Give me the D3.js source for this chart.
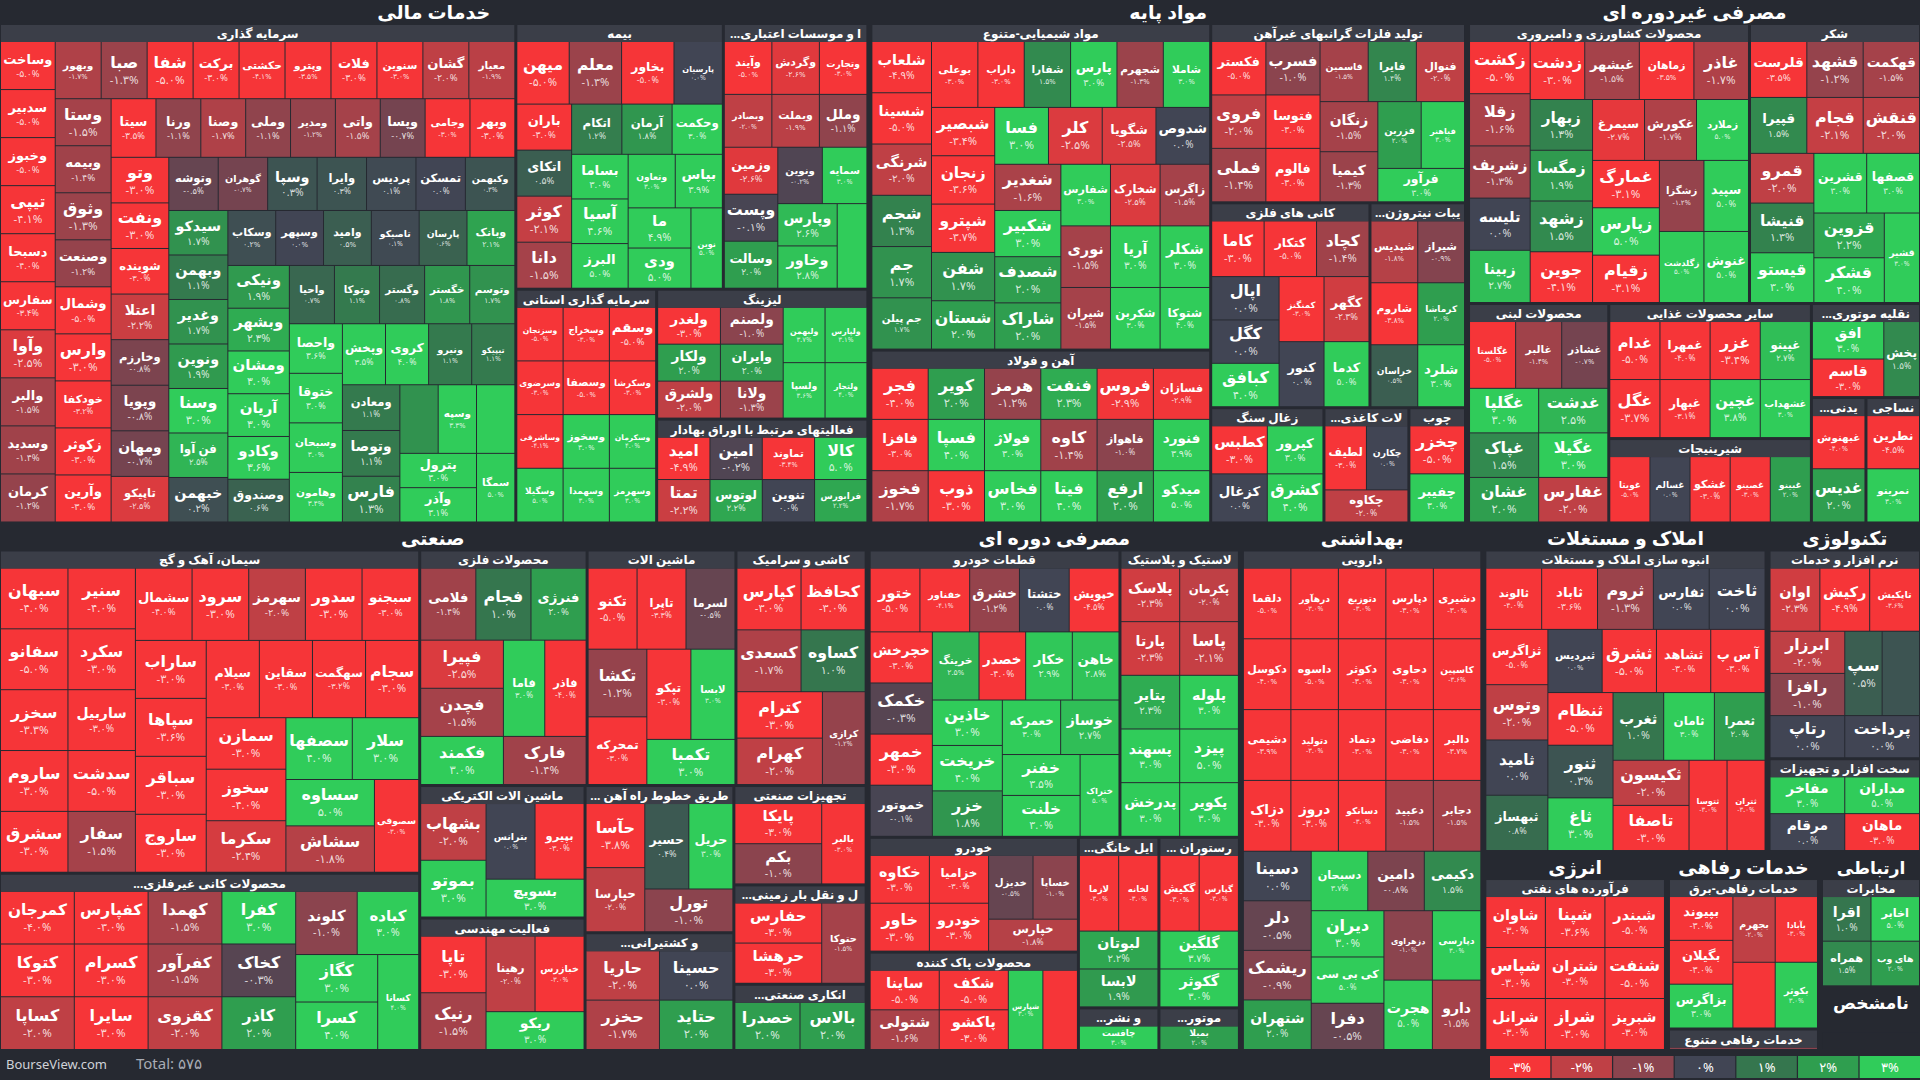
<!DOCTYPE html>
<html><head><meta charset="utf-8">
<script src="https://cdn.jsdelivr.net/npm/d3@7"></script>
<style>body{margin:0;background:#262931;overflow:hidden}svg{display:block}text{font-family:"Noto Sans","DejaVu Sans",sans-serif}</style>
</head><body><svg id="c" width="1920" height="1080"></svg>
<script>
// ---------- DATA ----------
// each sector: [subsector, [[ticker, pctChange, weight?], ...]]
const finance = [
 ["سرمایه گذاری", [["وساخت",-5],["سدبیر",-5],["وخبوز",-5],["تیپی",-4.1],["دسبحا",-4],["سفارس",-3.4],["وآوا",-2.5],["والبر",-1.5],["وسدید",-1.4],["کرمان",-1.2],["وبهور",-1.7],["صبا",-1.3],
  ["شفا",-5],["برکت",-3],["حکشتی",-4.1],["وپترو",-3.5],["فلات",-3],["سنوین",-3],["گشان",-2],["معیار",-1.9],["وستا",-1.5],["وبیمه",-1.4],["وثوق",-1.3],["وصنعت",-1.2],
  ["وشمال",-5],["وارس",-3],["خودکفا",-3.2],["زکوثر",-3],["وآرین",-3],["سیتا",-3.5],["ورنا",-1.1],["وصنا",-1.7],["وملی",-1.1],["ومدیر",-1.2],["واتی",-1.5],["وپسا",-0.7],
  ["وجامی",-3],["وبهر",-3],["وتو",-3],["ونفت",-3],["شوینده",-3],["اعتلا",-2.2],["وخارزم",-0.8],["وپویا",-0.8],["ومهان",-0.7],["تاپیکو",-2.5],["وتوشه",-0.5],
  ["گوهران",-0.7],["وسپا",0.3],["وایرا",0.3],["پردیس",0.1],["تمسکن",0],["وکبهمن",0.3],["سیدکو",1.7],["وبهمن",1.1],["وغدیر",1.7],["ونوین",1.9],["وسنا",3],["فن آوا",2.5],
  ["خبهمن",0.2],["وسکاب",0.2],["وسپهر",0],["وامید",0.5],["تاصیکو",0.1],["پارسان",0.6],["وبانک",2.1],["ونیکی",1.9],["وبشهر",2.3],["ومشان",3],["آریان",3],["وکادو",3.6],
  ["وصندوق",0.6],["واحیا",0.7],["وتوکا",1.1],["وگستر",0.8],["خگستر",1.8],["وتوسم",1.7],["واحصا",3.6],["ختوقا",3],["وسبحان",3],["وهامون",3.4],["وپخش",3.5],["کروی",4],
  ["ونیرو",1.1],["تیپیکو",1.1],["ومعادن",1.1],["وتوصا",1.1],["فارس",1.3],["سرچشمه",1.7],["وسپه",3.3],["واعتبار",3],["پترول",3],["وآذر",3.1],["سمگا",5]]],
 ["بیمه", [["میهن",-5,1.3],["معلم",-1.3,1.3],["بخاور",-5,1.3],["پارسیان",0,1.2],["باران",-3],["اتکای",0.5],["کوثر",-2.1],["دانا",-1.5],["اتکام",1.2],["آرمان",1.8],
  ["وحکمت",3],["بساما",3],["آسیا",4.6],["البرز",5],["وتعاون",3],["بپاس",3.9],["ما",4.9],["ودی",5],["نوین",5]]],
 ["بانکها و موسسات اعتباری", [["وآیند",-5],["وگردش",-2.6],["وتجارت",-3],["وبصادر",-2],["وبملت",-1.9],["وملل",-1.1],["وزمین",-2.6],["وپست",-0.1],["وسالت",2],["ونوین",-0.2],["سمایه",3],["وپارس",2.6],["وخاور",2.8],["وسینا",5]]],
 ["سرمایه گذاری استانی", [["وسزنجان",-5],["وسخراج",-3],["وسقم",-5],["وسرضوی",-3],["وسصفا",-5],["وسکرشا",-3],["وساشرقی",-4.1],["وسگیلا",5],["وسخوز",3],["وسکرمان",4],["وسهمدا",3],["وسهرمز",3]]],
 ["لیزینگ", [["ولغدر",-3],["ولکار",2],["ولشرق",-2],["ولصنم",-1],["وایران",2],["ولانا",-1.3],["ولبهمن",3.7],["ولپارس",3.1],["ولسپا",3.6],["ولتجار",4]]],
 ["فعالیتهای مرتبط با اوراق بهادار", [["امید",-4.9],["تمتا",-2.2],["امین",-0.2],["لوتوس",2.2],["تماوند",-3.4],["تنوین",0],["کالا",5],["فرابورس",2.2]]]
];
const basic = [
 ["مواد شیمیایی-متنوع", [["شلعاب",-4.9],["شسینا",-5],["شرنگی",-2],["شجم",1.3],["جم",1.7],["جم پیلن",1.7],["بوعلی",-3],["داراب",-3],["شفارا",1.5],["پارس",3],["شجهرم",-1.3],["شاملا",3],["شبصیر",-3.4],["زنجان",-3.6],["شپترو",-3.7],["شفن",1.7],["شستان",2],["فسا",3],
  ["کلر",-2.5],["شگویا",-2.5],["شدوص",0],["شغدیر",-1.6],["شکبیر",3],["شصدف",2],["شاراک",2],["شفارس",3],["شخارک",-2.5],["زاگرس",-1.5],["نوری",-1.5],["شیران",-1.5],["آریا",3],["شکلر",3],["شکربن",3],["شتوکا",4]]],
 ["تولید فلزات گرانبهای غیرآهن", [["فکستر",-5],["فروی",-2],["فملی",-1.4],["فسرب",-1],["فتوسا",-3],["فالوم",-3],["فاسمین",-1.5],["فایرا",1.4],["فنوال",-2],["زنگان",-1.5],["کیمیا",-1.3],["فزرین",2],["فباهنر",3],["فرآور",3]]],
 ["کانی های فلزی", [["کاما",-3],["کتکار",-5],["کچاد",-1.4],["اپال",0],["کگل",0],["کبافق",4],["کمنگنز",-3],["کگهر",-2.3],["کنور",0],["کدما",5]]],
 ["آهن و فولاد", [["فجر",-4],["فافزا",-3],["فخوز",-1.7],["کویر",2],["فسپا",4],["ذوب",-3],["هرمز",-1.2],["فولاژ",3],["فخاس",3],["فنفت",2.3],["کاوه",-1.4],["فیتا",4],["فروس",-2.9],["فسازان",-2.9],["فاهواز",-1],["ارفع",2],["فنورد",3.9],["میدکو",5]]],
 ["...و ترکیبات نیتروژن", [["شپدیس",-1.8],["شیراز",-0.9],["شاروم",-3.8],["کرماشا",2],["خراسان",0.5],["شلرد",3]]],
 ["زغال سنگ", [["کطبس",-3],["کزغال",0],["کپرور",3],["کشرق",4]]],
 ["محصولات کاغذی", [["لطیف",-3],["چکارن",0],["چکاوه",-2]]],
 ["چوب", [["چخزر",-5],["چفیبر",3]]]
];
const staples = [
 ["محصولات کشاورزی و دامپروری", [["زکشت",-5],["زقلا",-1.6],["زشریف",-1.3],["تلیسه",0],["زبینا",2.7],["زدشت",-3],["غبشهر",-1.5],["زماهان",-3.5],["غاذر",-1.7],["زبهار",1.3],["زمگسا",1.9],["زشهد",1.5],["جوین",-4.1],["سیمرغ",-2.7],["غکورش",-1.7],["زملارد",5],["غمارگ",-3.1],["زپارس",5],["زقیام",-3.1],["زشگزا",-1.2],["سپید",5],["زگلدشت",5],["غنوش",5]]],
 ["شکر", [["قلرست",-3.5],["قشهد",-1.2],["قهکمت",-1.5],["قپیرا",1.5],["قجام",-2.1],["قنقش",-2],["قمرو",-2],["قنیشا",1.3],["قیستو",3],["قشرین",3],["قصفها",3],["قزوین",2.2],["قشکر",4],["قشیر",3]]],
 ["محصولات لبنی", [["غگلستا",-5],["غالبر",-1.4],["غشاذر",-0.7],["غگلپا",3],["غپاک",1.5],["غشان",2],["غدشت",2.5],["غگیلا",3],["غفارس",-2]]],
 ["سایر محصولات غذایی", [["غدام",-5],["غگل",-3.7],["غمهرا",-4],["غبهار",-3.1],["غزر",-3.4],["غپینو",2.7],["غچین",3.8],["غشهداب",3]]],
 ["شیرینیجات", [["غویتا",-5],["غسالم",0],["غشکو",-3],["غصینو",-3],["غبینو",2]]],
 ["...نقلیه موتوری", [["افق",3],["قاسم",-3],["پخش",1.5]]],
 ["نوشیدنی", [["غبهنوش",-4],["غدیس",2]]],
 ["نساجی", [["نطرین",-4.5],["نمرینو",3]]]
];
const industrial = [
 ["سیمان، آهک و گچ", [["سبهان",-4],["سفانو",-5],["سخزر",-3.3],["ساروم",-3],["سشرق",-3],["سنیر",-4],["سکرد",-3],["ساربیل",-3],["سدشت",-5],["سفار",-1.5],["سشمال",-4],["سرود",-3],["سهرمز",-2],["سدور",-3],["سبجنو",-3],["ساراب",-3],["سپاها",-3.6],["سباقر",-3],["ساروج",-3],["سیلام",-3],["سقاین",-3],["سهگمت",-3.2],["سجام",-3],["سمازن",-3],["سخوز",-4],["سکرما",-2.4],["سصفها",4],["سلار",3],["سساوه",5],["سشاش",-1.8],["سصوفی",-3]]],
 ["...محصولات کانی غیرفلزی", [["کمرجان",-4],["کتوکا",-3],["کساپا",-2],["کفپارس",-3],["کسرام",-3],["سایرا",-3],["کهمدا",-1.5],["کفرآور",-1.5],["کقزوی",-2],["کفرا",3],["کخاک",-0.3],["کاذر",2],["کلوند",-1],["کباده",3],["کگاز",3],["کسرا",4],["کسانا",4]]],
 ["محصولات فلزی", [["فلامی",-1.4],["فجام",1],["فنرژی",2],["فپیرا",-2.5],["فچدن",-1.5],["فکمند",3],["فاما",3],["فاذر",-4],["فارک",-1.4]]],
 ["ماشین الات الکتریکی", [["بشهاب",-2],["بموتو",3],["بترانس",0],["بپیرو",-3],["بسویچ",3]]],
 ["...و کشتیرانی", [["حاریا",-2],["حخزر",-1.7],["حسینا",0],["حتاید",2]]],
 ["فعالیت مهندسی", [["تاپا",-3],["رنیک",-1.5],["رهینا",-2],["خبازرس",-3],["ربکو",3]]],
 ["ماشین الات", [["تکنو",-5],["تاپرا",-3.3],["لسرما",-0.5],["تکشا",-1.2],["تمحرکه",-3],["تپکو",-3],["لابسا",3],["تکمبا",3]]],
 ["...ل از طریق خطوط راه آهن", [["حآسا",-3.8],["حپارسا",-2],["حسیر",0.4],["حریل",3],["تورل",-1]]],
 ["تجهیزات صنعتی", [["پایکا",-3],["بکم",-1],["بالبر",-3]]],
 ["کاشی و سرامیک", [["کپارس",-3],["کحافظ",-3],["کسعدی",-1.7],["کساوه",1],["کترام",-3],["کهرام",-2],["کرازی",-1.2]]],
 ["حمل و نقل بار زمینی", [["حفارس",-3],["حرهشا",-3],["حتوکا",-1.5]]],
 ["...انکاری صنعتی", [["خصدرا",2],["بالاس",2]]]
];
const discretionary = [
 ["قطعات خودرو", [["ختور",-5],["خفناور",-4.1],["خشرق",-1.2],["ختشتا",0],["خپویش",-4.5],["خچرخش",-3],["خکمک",-0.3],["خمهر",-3],["خموتور",-0.1],["خرینگ",2.5],["خصدر",-4],["خکار",2.9],["خاهن",2.8],["خاذین",3],["خریخت",4],["خزر",1.8],["خعمرکه",3],["خوساز",2.7],["خفنر",3.5],["خلنت",3],["ختراک",5]]],
 ["لاستیک و پلاستیک", [["پلاسک",-2.3],["پکرمان",-2],["پارتا",-2.3],["پاسا",-2.1],["پتایر",2.3],["پلوله",3],["پسهند",3],["پدرخش",3],["پیزد",5],["پکویر",3]]],
 ["محصولات پاک کننده", [["ساینا",-5],["شتولی",-1.6],["شکف",-5],["پاکشو",-3],["شپارس",3],["شپاکسا",-3.3]]],
 ["خودرو", [["خکاوه",-3],["خاور",-3],["خزامیا",-3],["خودرو",-3],["خدیزل",-0.5],["خساپا",-1],["خپارس",-1.8]]],
 ["وسایل خانگی", [["لازما",-3],["لخانه",-3],["لبوتان",2.2],["لابسا",1.9]]],
 ["هتل و رستوران", [["گکیش",-3],["گپارس",-3],["گلگین",3.7],["گکوثر",3]]],
 ["...و نشر", [["چافست",3]]],
 ["...موتور", [["بمیلا",2]]]
];
const health = [
 ["دارویی", [["دلقما",-5],["درهآور",-3],["دتوزیع",-3],["دپارس",-3],["دشیری",-3],["دکوسل",-4],["داسوه",-5],["دکوثر",-3],["دحاوی",-3],["کاسپین",-3.6],["دشیمی",-3.9],["دتولید",-3],["دتماد",-3],["دفاضی",-3],["دالبر",-3.7],["دزاک",-3],["دروز",-3],["دسانکو",-3],["دعبید",-1.5],["دجابر",-1.5],["دسینا",0],["دلر",-0.5],["ریشمک",-0.9],["شتهران",2],["دسبحان",3.7],["دامین",-0.8],["دکیمی",1.5],["دیران",3],["کی بی سی",5],["دفرا",-0.5],["دزهراوی",-1],["دپارسی",3],["هجرت",5],["دارو",-1.5]]]
];
const realestate = [["انبوه سازی املاک و مستغلات", [["ثالوند",-4],["ثاباد",-3.6],["ثروم",-1.3],["ثفارس",0],["ثاخت",0],["ثزاگرس",-5],["وتوس",-2],["ثامید",0],["ثبهساز",0.8],["ثبردیس",0],["ثشرق",-5],["ثشاهد",-3],["آ س پ",-3],["ثنظام",-5],["ثنور",0.3],["ثاغ",3],["ثغرب",1],["ثامان",3],["ثعمرا",2],["ثکیسون",-2],["تاصفا",-3],["ثتوسا",-3],["ثتران",-3]]]];
const tech = [
 ["نرم افزار و خدمات", [["اوان",-2.3],["رکیش",-4.9],["تاپکیش",-3.6],["ابرزار",-2],["رافزا",-1],["رتاپ",0],["سپ",0.5],["رانفور",0.3],["پرداخت",0]]],
 ["سخت افزار و تجهیزات", [["مفاخر",3],["مرقام",0],["مداران",5],["ماهان",-3]]]
];
const energy = [["فرآورده های نفتی", [["شاوان",-3],["شپاس",-3],["شرانل",-3],["شپنا",-3.6],["شبندر",-5],["شتران",-3],["شراز",-3],["شنفت",-5],["شبریز",-3]]]];
const utilities = [
 ["خدمات رفاهی-برق", [["بپیوند",-3],["بگیلان",-3],["بزاگرس",3],["بجهرم",-2],["بآبادا",-3],["بدماوند",-3],["بکوثر",3]]],
 ["خدمات رفاهی متنوع", [["بتوان",-1]]]
];
const telecom = [["مخابرات", [["اقرا",1],["همراه",1.5],["اخابر",5],["های وب",2]]]];
const unknown = [["", [["",0]]]];

const sectorNames = ["خدمات مالی","مواد پایه","مصرفی غیردوره ای","صنعتی","مصرفی دوره ای","بهداشتی","املاک و مستغلات","تکنولوژی","انرژی","خدمات رفاهی","ارتباطی","نامشخص"];
const sectorShares = [22.6,15.5,11.8,22.6,9.7,6.3,4.6,2.5,1.8,1.5,0.68,0.32];
const sectorData = [finance,basic,staples,industrial,discretionary,health,realestate,tech,energy,utilities,telecom,unknown];
const legendTicks = [-3,-2,-1,0,1,2,3];
const totalCount = 575;

// ---------- BUILD ----------
const W=1920,H=1080,TH=1050;
const color=d3.scaleLinear().domain(legendTicks).range(["#f63538","#bf4045","#8b444e","#414554","#35764e","#2f9e4f","#30cc5a"]).clamp(true);
const fa=s=>s.replace(/\d/g,d=>"۰۱۲۳۴۵۶۷۸۹"[d]);
function sector(i){
  const subs=sectorData[i]; let sw=0; subs.forEach(s=>s[1].forEach(t=>sw+=(t[2]||1)));
  return {name:sectorNames[i],kind:"sector",children:subs.map(s=>({name:s[0],kind:"sub",children:s[1].map(t=>({name:t[0],pct:t[1],value:sectorShares[i]*(t[2]||1)/sw}))}))};
}
const grp=(tile,children)=>({kind:"grp",tile,children});
const rootData=grp("slice",[
  grp("dice",[sector(0),sector(1),sector(2)]),
  grp("dice",[sector(3),sector(4),sector(5),
    grp("slice",[grp("dice",[sector(6),sector(7)]),grp("dice",[sector(8),sector(9),grp("slice",[sector(10),sector(11)])])])])
]);
const root=d3.hierarchy(rootData).sum(d=>d.value||0)
  .sort((a,b)=>(a.parent&&a.parent.data.kind==="grp")?0:b.value-a.value);
const tile=(node,x0,y0,x1,y1)=>{
  const t=node.data.tile;
  (t==="slice"?d3.treemapSlice:t==="dice"?d3.treemapDice:d3.treemapSquarify.ratio(1.2))(node,x0,y0,x1,y1);
};
d3.treemap().size([W,TH]).tile(tile)
  .paddingInner(n=>n.data.kind==="grp"?4:n.data.kind==="sector"?3:1)
  .paddingOuter(n=>n.data.kind==="sector"?1:0)
  .paddingTop(n=>n.data.kind==="sector"?25:n.data.kind==="sub"?17:0)
  (root);

const svg=d3.select("#c");
svg.append("rect").attr("width",W).attr("height",H).attr("fill","#262931");
const g=svg.append("g");

const leaves=root.leaves();
const cell=g.selectAll("g.leaf").data(leaves).join("g").attr("class","leaf").attr("transform",d=>`translate(${d.x0},${d.y0})`);
cell.append("rect").attr("width",d=>Math.max(0,d.x1-d.x0)).attr("height",d=>Math.max(0,d.y1-d.y0))
  .attr("fill",d=>d.data.name===""?"#262931":color(d.data.pct));
cell.each(function(d){
  const w=d.x1-d.x0,h=d.y1-d.y0,n=d.data.name; if(!n) return;
  let fs=Math.min(16,(w-8)/(n.length*0.7),h/2.6); if(fs<7) return;
  const sel=d3.select(this);
  const t=sel.append("text").attr("x",w/2).attr("y",h/2-fs*0.15).attr("text-anchor","middle").attr("fill","#fff")
    .attr("font-weight","bold").attr("font-size",fs).text(n);
  const tl=t.node().getComputedTextLength();
  if(tl>w-4){fs=fs*(w-4)/tl; t.attr("font-size",fs);}
  const p=(d.data.pct<0?"-":"")+fa(Math.abs(d.data.pct).toFixed(1))+"%";
  sel.append("text").attr("x",w/2).attr("y",h/2+fs*0.85).attr("text-anchor","middle").attr("fill","#fff")
    .attr("fill-opacity",0.8).attr("font-size",Math.max(7,fs*0.72)).attr("direction","ltr").text(p);
});

function fitText(t,maxW){
  if(t.node().getComputedTextLength()<=maxW) return;
  let core=t.text().replace(/^\.\.\./,"");
  while(core.length>1){core=core.slice(1); t.text("..."+core); if(t.node().getComputedTextLength()<=maxW) return;}
}
root.descendants().filter(d=>d.data.kind==="sub"&&d.data.name).forEach(d=>{
  const w=d.x1-d.x0;
  g.append("rect").attr("x",d.x0).attr("y",d.y0).attr("width",w).attr("height",17).attr("fill","#3b3e48");
  const t=g.append("text").attr("x",d.x0+w/2).attr("y",d.y0+13).attr("text-anchor","middle").attr("fill","#fff")
    .attr("font-weight","bold").attr("font-size",12).text(d.data.name);
  fitText(t,w-6);
});
root.descendants().filter(d=>d.data.kind==="sector").forEach(d=>{
  const w=d.x1-d.x0;
  const t=g.append("text").attr("x",d.x0+w/2).attr("y",d.y0+19).attr("text-anchor","middle").attr("fill","#fff")
    .attr("font-weight","bold").attr("font-size",d.data.name==="نامشخص"||d.data.name==="ارتباطی"?17:19).text(d.data.name);
  fitText(t,w-4);
});

// footer
svg.append("text").attr("x",6).attr("y",1069).attr("fill","#d0d2d8").attr("font-size",13).text("BourseView.com");
svg.append("text").attr("x",136).attr("y",1069).attr("fill","#a9acb5").attr("font-size",15).text("Total: "+fa(String(totalCount)));
const lx=d3.scaleBand().domain(legendTicks).range([1490,1920]).paddingInner(0.02);
const lg=svg.append("g").attr("transform","translate(0,1056)");
lg.selectAll("rect").data(legendTicks).join("rect").attr("x",d=>lx(d)).attr("width",lx.bandwidth()).attr("height",22).attr("fill",d=>color(d));
lg.selectAll("text").data(legendTicks).join("text").attr("x",d=>lx(d)+lx.bandwidth()/2).attr("y",16).attr("text-anchor","middle")
  .attr("fill","#fff").attr("font-size",13).attr("direction","ltr").text(d=>(d<0?"-":"")+fa(String(Math.abs(d)))+"%");
</script></body></html>
